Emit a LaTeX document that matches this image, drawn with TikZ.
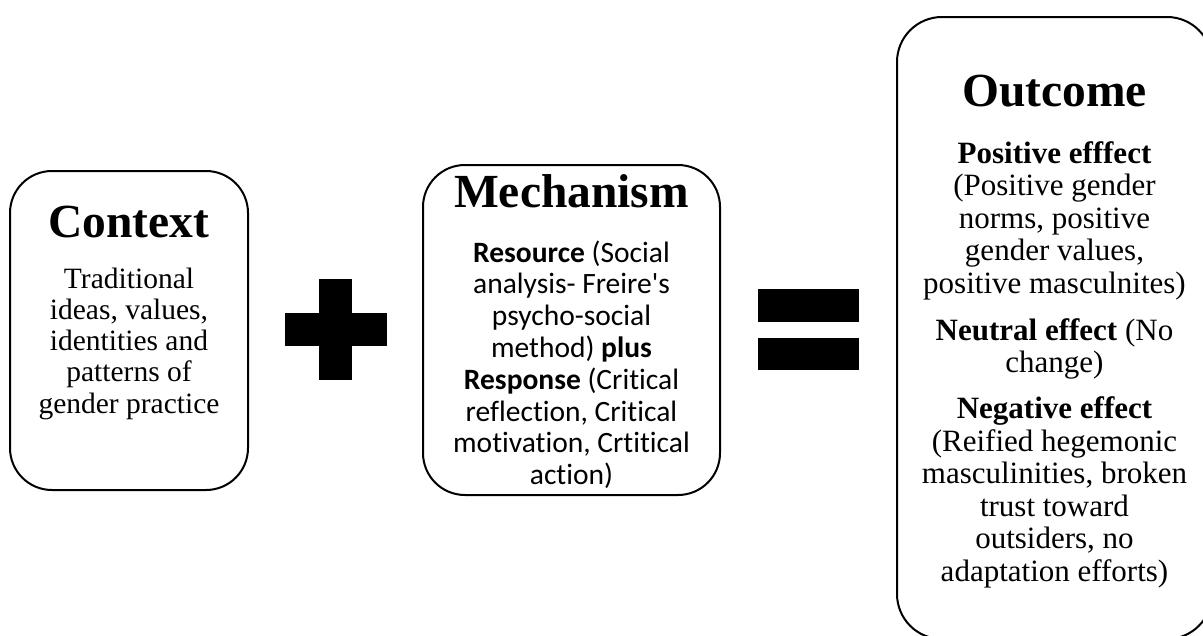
\documentclass[tikz,border=0pt]{standalone}
\usepackage{fontspec}
\setmainfont[Ligatures=NoCommon]{Liberation Serif}
\newfontfamily\calibfont[Ligatures=NoCommon]{Carlito}
\begin{document}
\begin{tikzpicture}[x=1pt,y=-1pt,
  panel/.style={draw=black, line width=2pt, rounded corners=42pt, fill=white, inner sep=0pt},
  heading/.style={anchor=base, inner sep=0pt, font=\bfseries\fontsize{47.5}{50}\selectfont},
  bodytext/.style={anchor=base, inner sep=0pt},
  glyph/.style={fill=black}]
\useasboundingbox (0,0) rectangle (1203,635);
\clip (0,0) rectangle (1203,635);

% three rounded panels
\node[panel, minimum width=238pt, minimum height=319pt] (ctxbox) at (129,330.5) {};
\node[panel, minimum width=297pt, minimum height=330pt] (mechbox) at (571.5,330) {};
\node[panel, rounded corners=45pt, minimum width=315pt, minimum height=622pt] (outbox) at (1054.5,328) {};

% headings
\node[heading] (ctxtitle) at (129,237) {Context};
\node[heading] (mechtitle) at (571.5,207) {Mechanism};
\node[heading] (outtitle) at (1054.5,106) {Outcome};

% panel texts
\node[bodytext, font=\fontsize{29.5}{31.3}\selectfont] (ctxbody) at (129,288)
  {\begin{tabular}[t]{@{}c@{}}Traditional\\ ideas, values,\\ identities and\\ patterns of\\ gender practice\end{tabular}};

\node[bodytext, font=\calibfont\fontsize{29.5}{31.8}\selectfont] (mechbody) at (571.5,262)
  {\begin{tabular}[t]{@{}c@{}}\textbf{Resource} (Social\\ analysis- Freire\symbol{"27}s\\ psycho-social\\ method) \textbf{plus}\\ \textbf{Response} (Critical\\ reflection, Critical\\ motivation, Crtitical\\ action)\end{tabular}};

\node[bodytext, font=\fontsize{31}{32.5}\selectfont] (outbody) at (1054.5,163)
  {\begin{tabular}[t]{@{}c@{}}\textbf{Positive efffect}\\ (Positive gender\\ norms, positive\\ gender values,\\ positive masculnites)\\[14.5pt]
   \textbf{Neutral effect} (No\\ change)\\[13.5pt]
   \textbf{Negative effect}\\ (Reified hegemonic\\ masculinities, broken\\ trust toward\\ outsiders, no\\ adaptation efforts)\end{tabular}};

% plus sign
\fill[glyph] (319,279) rectangle (352,380);
\fill[glyph] (285,313) rectangle (387,346);

% equals sign
\fill[glyph] (758,289) rectangle (859,322);
\fill[glyph] (758,338) rectangle (859,370);
\end{tikzpicture}
\end{document}
